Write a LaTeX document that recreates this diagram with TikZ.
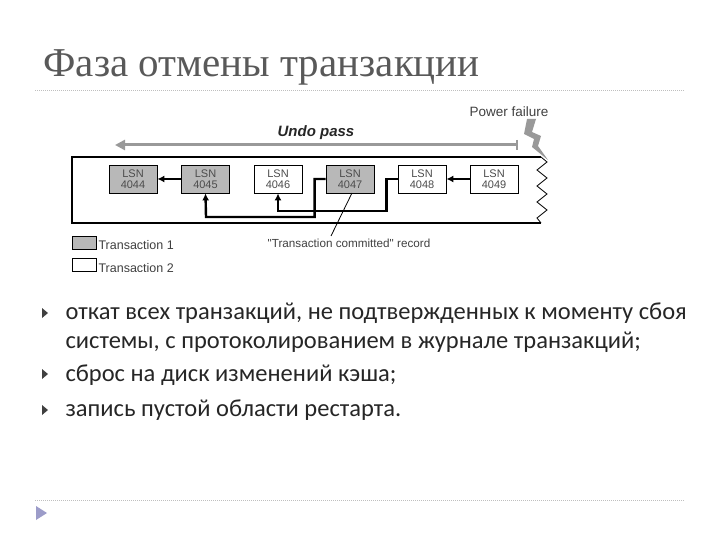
\documentclass[tikz,border=0pt]{standalone}
\usepackage{fontspec}
\setmainfont{Carlito}
\newfontfamily\ttl{Liberation Serif}
\newfontfamily\arl{Liberation Sans}
\usetikzlibrary{arrows.meta}
\begin{document}
\begin{tikzpicture}[x=1pt,y=-1pt,
 lsn/.style={draw=black,line width=0.8pt,minimum width=48pt,minimum height=28pt,inner sep=0pt,align=center,font=\arl\fontsize{11}{11}\selectfont,text=black!70},
 t1/.style={lsn,fill=black!28},
 t2/.style={lsn,fill=white},
 link/.style={line width=2.4pt,-{Latex[length=7pt,width=7pt]}},
 dots/.style={draw=black!25,dash pattern=on 1pt off 1pt,line width=0.8pt},
 btxt/.style={font=\fontsize{24.5}{30}\selectfont,anchor=west,text=black!85}]
\useasboundingbox (0,0) rectangle (720,540);
\node[anchor=west,font=\ttl\fontsize{41}{41}\selectfont,text=black!65] (title) at (40,67) {Фаза отмены транзакции};
\draw[dots] (35,90) -- (685,90);
\draw[dots] (35,500) -- (685,500);
% log frame
\draw[line width=2pt] (541,157) -- (72,157) -- (72,223) -- (541,223);
\draw[line width=0.8pt] (541,157) -- (547,162) -- (537,170) -- (547,178) -- (537,186) -- (547,194) -- (537,202) -- (547,210) -- (537,218) -- (541,223);
% undo pass
\draw[line width=3pt,draw=black!40,-{Triangle[length=10pt,width=10pt]}] (517,145) -- (115,145);
\draw[line width=1.5pt,draw=black!40] (517,140) -- (517,150);
\node[font=\arl\bfseries\itshape\fontsize{15}{15}\selectfont,text=black!85] (undo) at (316,133) {Undo pass};
\node[font=\arl\fontsize{13.5}{13.5}\selectfont,text=black!75] (pf) at (509,112) {Power failure};
\fill[black!40] (527,119) -- (536,119) -- (532,132) -- (541,136) -- (538,146) -- (548,160) -- (532,147) -- (534,139) -- (524,134) -- cycle;
% nodes
\node[t1] (a) at (133,179) {LSN\\4044};
\node[t1] (b) at (205.5,179) {LSN\\4045};
\node[t2] (c) at (278,179) {LSN\\4046};
\node[t1] (d) at (350,179) {LSN\\4047};
\node[t2] (e) at (422,179) {LSN\\4048};
\node[t2] (f) at (494,179) {LSN\\4049};
\draw[link] (b.west) -- (a.east);
\draw[link] (f.west) -- (e.east);
\draw[link] (d.west) -- ++(-11,0) |- (206,217) -- (b.south);
\draw[link] (e.west) -- ++(-11,0) |- (278,211) -- (c.south);
\node[font=\arl\fontsize{11.7}{11.7}\selectfont,text=black!75] (cm) at (349,243) {"Transaction committed" record};
\draw[line width=0.8pt] (352,193) -- (331,236);
% legend
\node[draw,fill=black!28,minimum width=24pt,minimum height=13pt,inner sep=0pt] (l1) at (84,242.5) {};
\node[anchor=west,font=\arl\fontsize{12.5}{12.5}\selectfont,text=black!75] (l1t) at (95,245) {Transaction 1};
\node[draw,fill=white,minimum width=24pt,minimum height=13pt,inner sep=0pt] (l2) at (84,265) {};
\node[anchor=west,font=\arl\fontsize{12.5}{12.5}\selectfont,text=black!75] (l2t) at (95,268) {Transaction 2};
\fill[white] (60,272) rectangle (560,282);
% bullets
\foreach \y in {313,374,410} \fill[black!75] (42,\y-5) -- (48,\y) -- (42,\y+5) -- cycle;
\node[btxt] (p1) at (62,313) {откат всех транзакций, не подтвержденных к моменту сбоя};
\node[btxt] (p1b) at (62,342) {системы, с протоколированием в журнале транзакций;};
\node[btxt] (p2) at (62,375) {сброс на диск изменений кэша;};
\node[btxt] (p3) at (62,410) {запись пустой области рестарта.};
\fill[blue!30!gray!60] (36,506) -- (47,513) -- (36,520) -- cycle;
\end{tikzpicture}
\end{document}
